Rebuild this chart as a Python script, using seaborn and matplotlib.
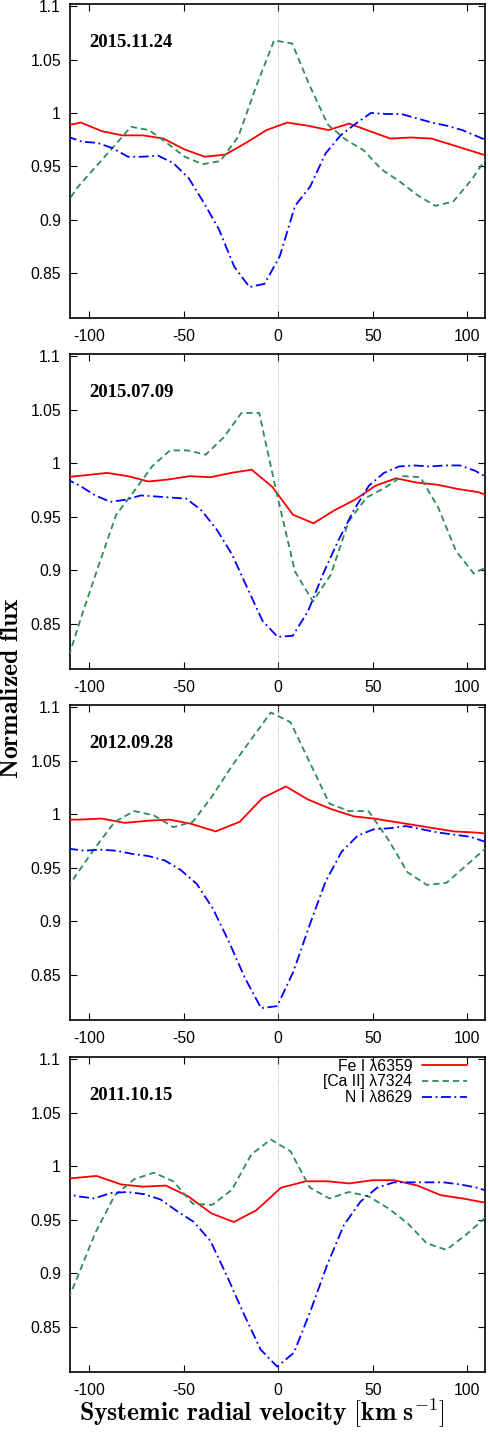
import matplotlib
matplotlib.use("Agg")
import matplotlib.pyplot as plt
import seaborn as sns
import numpy as np

# ------------------------------------------------------------
# line profiles per epoch
# velocity in km/s, flux normalized to continuum
# ------------------------------------------------------------
dates = ["2015.11.24", "2015.07.09", "2012.09.28", "2011.10.15"]
line_labels = ["Fe I λ6359", "[Ca II] λ7324", "N I λ8629"]
line_colors = ["#ff0000", "#2e8b57", "#0000ff"]

# 2015.11.24
fe_v_1 = [-115.1, -104.2, -93.3, -82.4, -71.5, -60.6, -49.7, -38.8, -27.9, -17.0, -6.1,
          4.8, 15.7, 26.6, 37.5, 48.4, 59.3, 70.2, 81.1, 92.0, 102.9, 113.8]
fe_f_1 = [0.987, 0.991, 0.983, 0.979, 0.979, 0.976, 0.966, 0.959, 0.961, 0.972, 0.984,
          0.991, 0.988, 0.984, 0.990, 0.983, 0.976, 0.977, 0.976, 0.970, 0.964, 0.958]
ca_v_1 = [-115.6, -106.2, -96.7, -87.2, -77.8, -68.3, -58.9, -49.4, -39.9, -30.5, -21.0, -11.6, -2.1,
          7.4, 16.8, 26.3, 35.7, 45.2, 54.7, 64.1, 73.6, 83.0, 92.5, 102.0, 111.4]
ca_f_1 = [0.905, 0.930, 0.949, 0.968, 0.987, 0.984, 0.972, 0.959, 0.952, 0.955, 0.978, 1.025, 1.068,
          1.065, 1.025, 0.989, 0.975, 0.965, 0.947, 0.936, 0.923, 0.913, 0.917, 0.937, 0.961]
n_v_1 = [-111.6, -103.5, -95.5, -87.5, -79.4, -71.4, -63.4, -55.4, -47.3, -39.3, -31.3, -23.2, -15.2,
         -7.2, 0.9, 8.9, 16.9, 25.0, 33.0, 41.0, 49.0, 57.1, 65.1, 73.1, 81.2, 89.2, 97.2, 105.3, 113.3]
n_f_1 = [0.978, 0.973, 0.972, 0.967, 0.959, 0.959, 0.960, 0.953, 0.939, 0.916, 0.891, 0.856, 0.837,
         0.840, 0.866, 0.913, 0.931, 0.962, 0.979, 0.990, 1.000, 0.999, 0.999, 0.995, 0.991, 0.988,
         0.984, 0.978, 0.972]

# 2015.07.09
fe_v_2 = [-112.1, -101.2, -90.3, -79.4, -68.5, -57.6, -46.7, -35.8, -24.9, -14.0, -3.1,
          7.8, 18.7, 29.6, 40.5, 51.4, 62.3, 73.2, 84.1, 95.0, 105.9, 116.8]
fe_f_2 = [0.987, 0.989, 0.991, 0.988, 0.983, 0.985, 0.988, 0.987, 0.991, 0.994, 0.978,
          0.952, 0.944, 0.956, 0.966, 0.979, 0.986, 0.982, 0.980, 0.976, 0.973, 0.966]
ca_v_2 = [-113.9, -104.5, -95.0, -85.6, -76.1, -66.7, -57.2, -47.8, -38.3, -28.9, -19.4, -10.0, -0.5,
          8.9, 18.4, 27.8, 37.3, 46.7, 56.2, 65.6, 75.1, 84.5, 94.0, 103.4, 112.9]
ca_f_2 = [0.802, 0.854, 0.904, 0.952, 0.974, 0.997, 1.012, 1.012, 1.008, 1.024, 1.047, 1.047, 0.970,
          0.899, 0.871, 0.896, 0.946, 0.968, 0.977, 0.988, 0.987, 0.959, 0.918, 0.897, 0.906]
n_v_2 = [-112.7, -104.7, -96.7, -88.6, -80.6, -72.6, -64.5, -56.5, -48.5, -40.5, -32.4, -24.4, -16.4,
         -8.3, -0.3, 7.7, 15.8, 23.8, 31.8, 39.9, 47.9, 55.9, 63.9, 72.0, 80.0, 88.0, 96.1, 104.1, 112.1]
n_f_2 = [0.986, 0.979, 0.970, 0.964, 0.966, 0.970, 0.969, 0.968, 0.967, 0.956, 0.938, 0.915, 0.884,
         0.853, 0.838, 0.839, 0.862, 0.897, 0.928, 0.956, 0.979, 0.991, 0.997, 0.998, 0.997, 0.998,
         0.998, 0.993, 0.985]

# 2012.09.28
fe_v_3 = [-117.0, -105.5, -93.3, -81.0, -68.7, -57.3, -45.8, -33.0, -20.3, -8.4,
          4.1, 15.5, 27.8, 40.1, 50.7, 61.2, 71.8, 82.4, 92.9, 104.0, 116.0]
fe_f_3 = [0.995, 0.995, 0.996, 0.992, 0.994, 0.995, 0.991, 0.984, 0.993, 1.015,
          1.026, 1.014, 1.005, 0.998, 0.996, 0.993, 0.990, 0.987, 0.984, 0.983, 0.981]
ca_v_3 = [-117.2, -106.9, -96.6, -86.3, -76.0, -65.7, -55.4, -45.1, -34.8, -24.5, -14.2, -3.9,
          6.5, 16.8, 27.1, 37.4, 47.7, 58.0, 68.3, 78.6, 88.9, 99.2, 109.5]
ca_f_3 = [0.915, 0.943, 0.969, 0.993, 1.003, 0.999, 0.988, 0.993, 1.017, 1.045, 1.070, 1.095,
          1.086, 1.048, 1.010, 1.003, 1.003, 0.977, 0.946, 0.934, 0.936, 0.952, 0.968]
n_v_3 = [-111.0, -102.5, -94.0, -85.5, -77.0, -68.5, -60.0, -51.5, -43.0, -34.5, -26.0, -17.5, -9.0,
         -0.5, 8.0, 16.5, 25.0, 33.5, 42.0, 50.5, 59.0, 67.5, 76.0, 84.5, 93.0, 101.5, 110.0]
n_f_3 = [0.968, 0.966, 0.967, 0.966, 0.963, 0.961, 0.957, 0.948, 0.935, 0.912, 0.881, 0.847, 0.819,
         0.821, 0.853, 0.896, 0.937, 0.965, 0.980, 0.986, 0.987, 0.989, 0.986, 0.983, 0.981, 0.979, 0.974]

# 2011.10.15
fe_v_4 = [-119.9, -108.0, -96.0, -82.8, -71.3, -59.3, -47.6, -35.2, -23.4, -11.5,
          1.5, 14.6, 26.1, 37.5, 49.8, 61.2, 73.6, 85.9, 97.5, 109.5]
fe_f_4 = [0.987, 0.989, 0.991, 0.983, 0.981, 0.982, 0.972, 0.956, 0.948, 0.959,
          0.980, 0.986, 0.986, 0.984, 0.987, 0.987, 0.982, 0.973, 0.970, 0.966]
ca_v_4 = [-117.2, -106.9, -96.6, -86.3, -76.0, -65.7, -55.4, -45.1, -34.8, -24.5, -14.2, -3.9,
          6.5, 16.8, 27.1, 37.4, 47.7, 58.0, 68.3, 78.6, 88.9, 99.2, 109.5]
ca_f_4 = [0.850, 0.893, 0.938, 0.973, 0.988, 0.994, 0.986, 0.965, 0.964, 0.978, 1.011, 1.025,
          1.014, 0.980, 0.970, 0.976, 0.972, 0.961, 0.947, 0.928, 0.922, 0.936, 0.952]
n_v_4 = [-114.9, -106.1, -97.3, -88.5, -79.7, -70.9, -62.1, -53.3, -44.5, -35.7, -26.9, -18.1, -9.3,
         -0.5, 8.3, 17.1, 25.9, 34.7, 43.5, 52.3, 61.1, 69.9, 78.7, 87.5, 96.3, 105.1, 113.9]
n_f_4 = [0.976, 0.972, 0.970, 0.975, 0.976, 0.974, 0.969, 0.958, 0.948, 0.930, 0.897, 0.862, 0.829,
         0.813, 0.826, 0.865, 0.908, 0.945, 0.967, 0.980, 0.985, 0.985, 0.985, 0.985, 0.983, 0.980, 0.975]

panels = [
    [(fe_v_1, fe_f_1), (ca_v_1, ca_f_1), (n_v_1, n_f_1)],
    [(fe_v_2, fe_f_2), (ca_v_2, ca_f_2), (n_v_2, n_f_2)],
    [(fe_v_3, fe_f_3), (ca_v_3, ca_f_3), (n_v_3, n_f_3)],
    [(fe_v_4, fe_f_4), (ca_v_4, ca_f_4), (n_v_4, n_f_4)],
]

x_ticks = [-100, -50, 0, 50, 100]
y_ticks = [0.85, 0.9, 0.95, 1.0, 1.05, 1.1]
y_ticklabels = ["0.85", "0.9", "0.95", "1", "1.05", "1.1"]

# ------------------------------------------------------------
# style
# ------------------------------------------------------------
sns.set_style("ticks")
plt.rcParams["font.family"] = ["Liberation Sans", "DejaVu Sans"]
plt.rcParams["mathtext.fontset"] = "cm"
plt.rcParams["axes.linewidth"] = 1.2
plt.rcParams["text.color"] = "black"
plt.rcParams["axes.labelcolor"] = "black"

dash_styles = ["-", (0, (3.5, 2.2)), (0, (5.5, 2.0, 1.0, 2.0))]

W, H = 488, 1432
fig = plt.figure(figsize=(W / 100, H / 100), dpi=100)

# pixel boxes (top, bottom) of each panel
panel_px = [(4, 318), (354, 669), (705, 1020), (1057, 1372)]
left_px, right_px = 70, 485

for i, (top, bot) in enumerate(panel_px):
    ax = fig.add_axes([left_px / W, 1 - bot / H, (right_px - left_px) / W, (bot - top) / H])

    ax.axvline(0, color="#999999", lw=0.6, ls=(0, (1, 1.5)), zorder=1)

    for j, (v, f) in enumerate(panels[i]):
        sns.lineplot(x=v, y=f, ax=ax, color=line_colors[j], lw=1.3,
                     linestyle=dash_styles[j], label=line_labels[j],
                     sort=False, legend=(i == 3), zorder=3)

    ax.set_xlim(-110, 109.3)
    ax.set_ylim(0.808, 1.102)
    ax.set_xticks(x_ticks)
    ax.set_xticklabels([str(t) for t in x_ticks])
    ax.set_yticks(y_ticks)
    ax.set_yticklabels(y_ticklabels)
    ax.tick_params(direction="in", length=5, width=0.8, top=True, right=True,
                   labelsize=11.3, colors="black")
    ax.tick_params(axis="x", pad=8)
    ax.tick_params(axis="y", pad=6.5)
    for s in ax.spines.values():
        s.set_visible(True)
        s.set_color("black")

    ax.text(-100, 1.066, dates[i], fontsize=13.5, fontweight="bold",
            family=["Liberation Serif", "DejaVu Serif"], ha="left", va="center")

    if i == 3:
        leg = ax.legend(loc="upper right", bbox_to_anchor=(0.957, 0.995), frameon=False,
                        markerfirst=False, fontsize=11.3, handlelength=2.9,
                        handletextpad=0.6, labelspacing=0.05, borderpad=0,
                        borderaxespad=0)
        for t in leg.get_texts():
            t.set_color("black")
    else:
        if ax.get_legend() is not None:
            ax.get_legend().remove()

    ax.set_xlabel("")
    ax.set_ylabel("")

fig.text(11 / W, 1 - 688 / H, r"$\mathbf{Normalized\ flux}$", rotation=90,
         ha="center", va="center", fontsize=18.5)
fig.text(261.5 / W, 1 - 1413 / H, r"$\mathbf{Systemic\ radial\ velocity\ [km\ s^{-1}]}$",
         ha="center", va="center", fontsize=18.5)

plt.savefig("out.png", dpi=100)
plt.close()
